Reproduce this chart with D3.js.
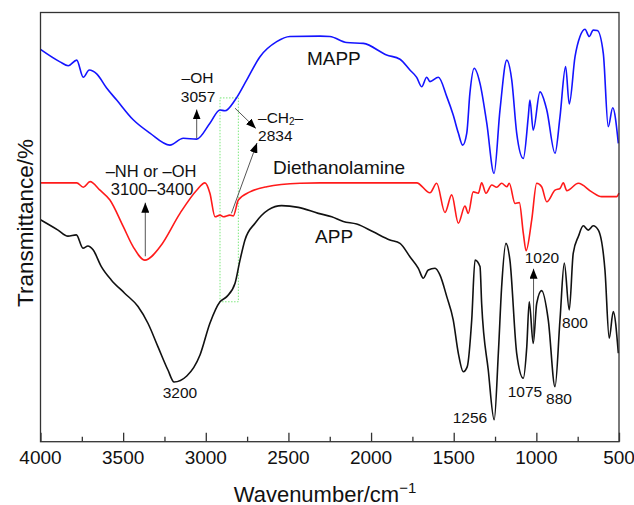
<!DOCTYPE html>
<html lang="en">
<head>
<meta charset="UTF-8">
<title>FTIR spectra</title>
<script src="https://cdn.jsdelivr.net/npm/d3@7"></script>
<style>
body { margin: 0; background: #fff; }
svg { display: block; font-family: 'Liberation Sans', Arial, sans-serif; }
.curve { fill: none; stroke-width: 1.6px; stroke-linejoin: round; }
.note { font-size: 15.5px; fill: #111; }
.series-label { font-size: 19px; fill: #111; }
</style>
</head>
<body>
<div id="chart"></div>
<script>
// Spectra: [wavenumber cm-1, transmittance (arbitrary offset %)]
const mapp = [
  [4000, 91.4], [3882, 88.5], [3832, 87.6], [3781, 88.9], [3741, 84.9], [3705, 86.6],
  [3660, 85.7], [3600, 82.4], [3539, 79.6], [3439, 75.0], [3338, 71.9], [3217, 69.1],
  [3136, 70.7], [3055, 70.5], [2975, 74.2], [2914, 77.3], [2884, 77.1], [2823, 79.6],
  [2752, 84.3], [2672, 89.7], [2571, 93.2], [2491, 94.4], [2309, 94.5], [2249, 94.4],
  [2148, 93.0], [2047, 92.8], [1906, 90.1], [1825, 89.1], [1765, 86.6], [1724, 84.9],
  [1694, 82.7], [1663, 84.9], [1644, 83.9], [1593, 84.9], [1542, 80.4], [1503, 76.1],
  [1472, 71.9], [1446, 69.1], [1421, 71.9], [1402, 81.2], [1376, 87.0], [1341, 83.5],
  [1300, 74.2], [1256, 62.5], [1220, 77.3], [1179, 88.9], [1149, 84.3], [1119, 71.9],
  [1079, 66.0], [1049, 75.7], [1039, 79.6], [1019, 72.6], [978, 81.5], [937, 77.3],
  [887, 67.2], [857, 75.7], [823, 87.4], [801, 78.7], [766, 89.7], [736, 94.4],
  [706, 96.1], [680, 94.4], [656, 95.9], [631, 95.8], [595, 90.5], [565, 73.4],
  [538, 77.8], [504, 69.5]
];
const diethanolamine = [
  [4000, 60.3], [3781, 60.3], [3741, 59.3], [3700, 60.6], [3640, 58.6], [3580, 56.3],
  [3499, 50.1], [3439, 45.4], [3368, 42.3], [3277, 45.4], [3156, 53.2], [3055, 58.6],
  [3005, 60.3], [2975, 57.9], [2944, 52.4], [2914, 52.8], [2894, 52.4], [2854, 52.8],
  [2834, 52.6], [2803, 56.3], [2733, 58.2], [2631, 59.4], [2430, 60.2], [2309, 60.3],
  [1724, 60.3], [1644, 58.0], [1603, 60.2], [1553, 53.4], [1512, 57.5], [1472, 50.9],
  [1432, 54.9], [1412, 53.2], [1382, 58.2], [1351, 57.9], [1331, 60.3], [1305, 57.9],
  [1270, 59.8], [1240, 59.3], [1210, 60.2], [1179, 59.4], [1164, 60.2], [1129, 55.5],
  [1103, 55.7], [1079, 48.6], [1062, 44.5], [1028, 51.7], [998, 60.2], [968, 59.4],
  [937, 55.9], [887, 58.6], [857, 59.0], [837, 60.3], [816, 58.5], [746, 60.2],
  [665, 58.2], [605, 57.1], [514, 57.1], [500, 57.9]
];
const app = [
  [4000, 51.7], [3894, 49.3], [3834, 47.9], [3783, 48.2], [3743, 45.1], [3713, 45.6],
  [3682, 44.7], [3632, 40.8], [3572, 37.7], [3491, 34.6], [3410, 31.5], [3350, 27.6],
  [3289, 22.1], [3229, 16.7], [3192, 13.9], [3115, 15.3], [3035, 20.2], [2975, 27.6],
  [2914, 32.6], [2873, 33.8], [2823, 36.9], [2793, 42.3], [2763, 47.0], [2702, 50.9],
  [2622, 54.0], [2541, 55.0], [2440, 54.6], [2319, 53.2], [2238, 52.4], [2168, 51.3],
  [2087, 50.7], [1987, 48.9], [1886, 47.0], [1825, 46.2], [1765, 43.1], [1714, 40.4],
  [1684, 38.1], [1654, 40.0], [1613, 40.4], [1583, 38.8], [1542, 33.8], [1503, 28.4],
  [1472, 20.6], [1442, 16.3], [1418, 17.5], [1391, 28.4], [1371, 42.3], [1341, 40.8],
  [1331, 32.2], [1291, 16.7], [1255, 5.1], [1230, 20.6], [1210, 36.1], [1184, 46.2],
  [1160, 42.3], [1119, 20.6], [1079, 14.8], [1058, 22.1], [1043, 32.6], [1019, 22.9],
  [998, 32.2], [968, 35.2], [928, 28.4], [887, 12.8], [857, 28.4], [831, 41.6],
  [801, 30.7], [777, 43.9], [746, 47.8], [716, 50.3], [686, 49.3], [656, 50.3],
  [625, 49.3], [585, 40.0], [559, 24.1], [535, 30.3], [504, 20.6]
];

const seriesNames = ["MAPP", "Diethanolamine", "APP"];
const seriesColors = ["#1414ff", "#ff1a1a", "#111111"];
const xTicks = [4000, 3500, 3000, 2500, 2000, 1500, 1000, 500];

// peak labels: [text, wavenumber, transmittance at baseline]
const peakLabels = [
  ["3200", 3156, 10.2], ["1256", 1402, 4.4], ["1075", 1069, 10.4],
  ["880", 863, 8.8], ["800", 766, 26.5], ["1020", 966, 41.6]
];

const width = 634, height = 505;
const margin = { top: 12.5, right: 15, bottom: 63.3, left: 40.5 };

const svg = d3.select("#chart").append("svg")
    .attr("width", width).attr("height", height);

const x = d3.scaleLinear().domain([4000, 500]).range([margin.left, width - margin.right]);
const y = d3.scaleLinear().domain([0, 100]).range([height - margin.bottom, margin.top]);

// arrow head
svg.append("defs").append("marker")
    .attr("id", "head")
    .attr("markerUnits", "userSpaceOnUse")
    .attr("viewBox", "0 0 10 8")
    .attr("refX", 10).attr("refY", 4)
    .attr("markerWidth", 10).attr("markerHeight", 8)
    .attr("orient", "auto")
    .append("path").attr("d", "M0,0 L10,4 L0,8 Z").attr("fill", "#000");

// green dotted box round the CH2 band
svg.append("rect")
    .attr("x", x(2914)).attr("y", y(80.1))
    .attr("width", x(2803) - x(2914)).attr("height", y(32.6) - y(80.1))
    .attr("fill", "none").attr("stroke", "#7ee87e")
    .attr("stroke-width", 1).attr("stroke-dasharray", "1.5,1.5");

// spectra
const line = d3.line()
    .x(d => x(d[0]))
    .y(d => y(d[1]))
    .curve(d3.curveMonotoneX);

[mapp, diethanolamine, app].forEach((s, i) => {
    svg.append("path")
        .datum(s)
        .attr("class", "curve")
        .attr("stroke", seriesColors[i])
        .attr("d", line);
});

// frame
svg.append("rect")
    .attr("x", margin.left).attr("y", margin.top)
    .attr("width", width - margin.right - margin.left)
    .attr("height", height - margin.bottom - margin.top)
    .attr("fill", "none").attr("stroke", "#333").attr("stroke-width", 1.3);

// x axis, ticks pointing inwards
const xAxis = svg.append("g")
    .attr("transform", `translate(0,${height - margin.bottom})`);
xAxis.call(d3.axisBottom(x).tickValues(d3.range(4000, 499, -250)).tickSize(-5).tickFormat(""));
xAxis.call(g => g.select(".domain").remove());
xAxis.selectAll(".tick line").attr("stroke", "#333").attr("stroke-width", 1.3);
xAxis.selectAll(".tick").filter(d => d % 500 === 0).select("line").attr("y2", -9);

svg.append("g").selectAll("text")
    .data(xTicks)
    .enter().append("text")
    .attr("x", d => x(d))
    .attr("y", 463.5)
    .attr("text-anchor", "middle")
    .style("font-size", "19px")
    .attr("fill", "#111")
    .text(d => d);

// axis titles
const xt = svg.append("text")
    .attr("x", 325).attr("y", 501.5)
    .attr("text-anchor", "middle")
    .style("font-size", "22px").attr("fill", "#111");
xt.append("tspan").text("Wavenumber/cm");
xt.append("tspan").attr("dy", -9).style("font-size", "15px").text("\u22121");

svg.append("text")
    .attr("transform", "translate(33,223) rotate(-90)")
    .attr("text-anchor", "middle")
    .style("font-size", "22.5px").attr("fill", "#111")
    .text("Transmittance/%");

// series labels
const labelPos = [[2388, 87.8], [2593, 62.4], [2339, 46.4]];
seriesNames.forEach((n, i) => {
    svg.append("text")
        .attr("class", "series-label")
        .attr("x", x(labelPos[i][0])).attr("y", y(labelPos[i][1]))
        .text(n);
});

// peak labels
svg.append("g").selectAll("text")
    .data(peakLabels)
    .enter().append("text")
    .attr("class", "note")
    .attr("x", d => x(d[1])).attr("y", d => y(d[2]))
    .attr("text-anchor", "middle")
    .text(d => d[0]);

// group annotations
function note(str, wn, t, anchor) {
    return svg.append("text").attr("class", "note")
        .attr("x", x(wn)).attr("y", y(t))
        .attr("text-anchor", anchor || "middle")
        .text(str);
}
note("\u2013OH", 3050, 83.6);
note("3057", 3047, 79.2);
note("\u2013NH or \u2013OH", 3331, 61.7).style("font-size", "16.5px");
note("3100\u20133400", 3325, 57.5).style("font-size", "16.5px");
const ch2 = svg.append("text").attr("class", "note")
    .attr("x", x(2684)).attr("y", y(74.3));
ch2.append("tspan").text("\u2013CH");
ch2.append("tspan").attr("dy", 2.5).style("font-size", "10px").text("2");
ch2.append("tspan").attr("dy", -2.5).text("\u2013");
note("2834", 2684, 70.1, "start");

// arrows [from, to] in [wavenumber, transmittance]
const arrows = [
    [[3055, 70.7], [3055, 77.4]],
    [[3366, 43.2], [3366, 55.7]],
    [[2823, 77.7], [2697, 73.0]],
    [[2845, 53.2], [2690, 69.6]],
    [[1017, 23.5], [1017, 40.3]]
];
svg.append("g").selectAll("line")
    .data(arrows)
    .enter().append("line")
    .attr("x1", d => x(d[0][0])).attr("y1", d => y(d[0][1]))
    .attr("x2", d => x(d[1][0])).attr("y2", d => y(d[1][1]))
    .attr("stroke", "#555").attr("stroke-width", 1)
    .attr("marker-end", "url(#head)");
</script>
</body>
</html>
